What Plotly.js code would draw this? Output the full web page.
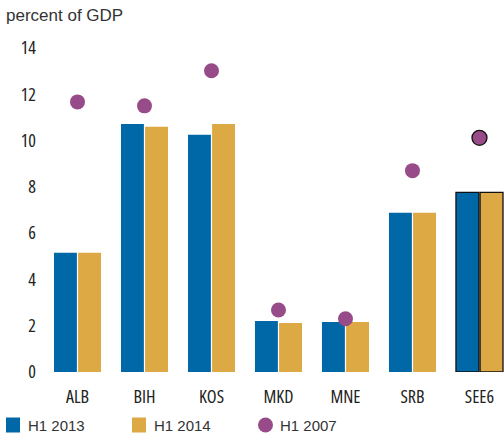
<!DOCTYPE html>
<html>
<head>
<meta charset="utf-8">
<script src="https://cdn.plot.ly/plotly-3.0.1.min.js"></script>
<style>
html,body{margin:0;padding:0;background:#fff;}
#chart{width:504px;height:436px;}
#chart .xtick text, #chart .ytick text{font-stretch:75% !important;}
</style>
</head>
<body>
<div id="chart"></div>
<script>
var categories = ["ALB", "BIH", "KOS", "MKD", "MNE", "SRB", "SEE6"];
var h1_2013 = [5.15, 10.72, 10.25, 2.2, 2.16, 6.88, 7.76];
var h1_2014 = [5.15, 10.6, 10.72, 2.12, 2.16, 6.88, 7.76];
var h1_2007 = [11.67, 11.5, 13.02, 2.68, 2.3, 8.7, 10.12];
var seriesNames = ["H1 2013", "H1 2014", "H1 2007"];
var yTicks = [0, 2, 4, 6, 8, 10, 12, 14];

var colBlue = "#0068A6", colGold = "#DCA944", colPurple = "#984B89";
var lastIdx = categories.length - 1;
var outlineW = categories.map(function(c, i){ return i === lastIdx ? 1.3 : 0; });
var tickFont = {family: "Open Sans, DejaVu Sans Condensed, sans-serif", size: 18, color: "#222"};

var traces = [
  {type: "bar", x: categories, y: h1_2013, name: seriesNames[0],
   marker: {color: colBlue, line: {color: "#111", width: outlineW}}, hoverinfo: "y"},
  {type: "bar", x: categories, y: h1_2014, name: seriesNames[1],
   marker: {color: colGold, line: {color: "#111", width: outlineW}}, hoverinfo: "y"},
  {type: "scatter", mode: "markers", x: categories, y: h1_2007, name: seriesNames[2],
   marker: {color: colPurple, size: 15, line: {color: "#111", width: outlineW}}, hoverinfo: "y"}
];

// custom legend (shapes + annotations placed in paper coordinates)
var W = 504, H = 436, L = 44, R = 0, T = 48, B = 64;
var pw = W - L - R, ph = H - T - B;
function px2x(p){ return (p - L) / pw; }
function py2y(p){ return (H - B - p) / ph; }
var legCols = [colBlue, colGold, colPurple];
var legX = [6, 132, 258];
var legCy = 425;
var shapes = [], annotations = [];
legX.forEach(function(x0, i){
  if (i < 2) {
    shapes.push({type: "rect", xref: "paper", yref: "paper",
      x0: px2x(x0), x1: px2x(x0 + 14), y0: py2y(legCy + 7.5), y1: py2y(legCy - 7.5),
      fillcolor: legCols[i], line: {width: 0}});
  } else {
    shapes.push({type: "circle", xref: "paper", yref: "paper",
      x0: px2x(x0), x1: px2x(x0 + 15), y0: py2y(legCy + 7.5), y1: py2y(legCy - 7.5),
      fillcolor: legCols[i], line: {width: 0}});
  }
  annotations.push({xref: "paper", yref: "paper", x: px2x(x0 + 20), y: py2y(legCy),
    xanchor: "left", yanchor: "middle", showarrow: false, text: seriesNames[i],
    font: {family: "Liberation Sans, Arial, sans-serif", size: 15, color: "#333"}});
});

var layout = {
  width: W, height: H,
  margin: {l: L, r: R, t: T, b: B, autoexpand: false},
  paper_bgcolor: "#fff", plot_bgcolor: "#fff",
  showlegend: false,
  barmode: "group", bargap: 0.28, bargroupgap: 0.05,
  title: {text: "percent of GDP", xref: "container", yref: "container",
    x: 6 / W, xanchor: "left", y: 1 - 15 / H, yanchor: "middle",
    font: {family: "Liberation Sans, Arial, sans-serif", size: 17, color: "#333"}},
  xaxis: {type: "category", range: [-0.5, 6.366], showgrid: false, zeroline: false,
    showline: false, ticks: "", tickfont: tickFont, ticklabelstandoff: 12, fixedrange: true},
  yaxis: {range: [0, 14], tickvals: yTicks, ticktext: yTicks.map(String), showgrid: false,
    zeroline: false, showline: false, ticks: "", tickfont: tickFont, ticklabelstandoff: 7, fixedrange: true},
  shapes: shapes, annotations: annotations
};

Plotly.newPlot("chart", traces, layout, {displayModeBar: false, staticPlot: true});
</script>
</body>
</html>
